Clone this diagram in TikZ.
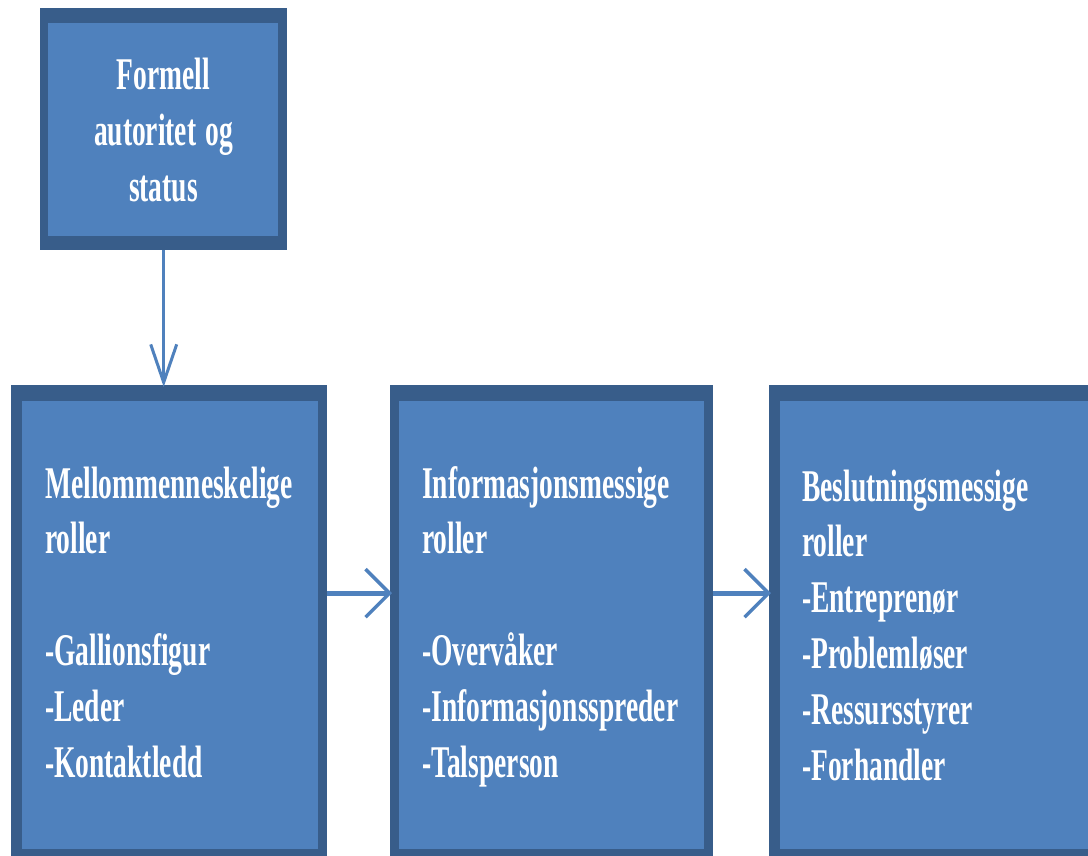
\documentclass[tikz,border=0pt]{standalone}
\usepackage{fontspec}
\setmainfont{Liberation Serif}
\usetikzlibrary{arrows.meta}
\definecolor{boxfill}{RGB}{79,129,189}
\definecolor{boxedge}{RGB}{56,93,138}
\definecolor{arrowc}{RGB}{79,129,189}
\begin{document}
\begin{tikzpicture}[x=1pt,y=-1pt,
  panel/.style={fill=boxedge, draw=none, inner sep=0pt, anchor=north west},
  inner/.style={fill=boxfill},
  txt/.style={text=white, inner sep=0pt, transform shape,
    font=\fontsize{27.5}{33.9}\selectfont\bfseries},
  vconn/.style={draw=arrowc, line width=3.5pt, shorten >=-2pt,
    -{Straight Barb[length=38pt, width=26pt, line width=3pt]}},
  hconn/.style={draw=arrowc, line width=5pt, shorten >=-2pt,
    -{Straight Barb[length=24pt, width=48pt, line width=3.5pt]}}]
\useasboundingbox (0,0) rectangle (1088,856);
\fill[white] (0,0) rectangle (1088,856);
% boxes
\node[panel, minimum width=247pt, minimum height=242pt] (top) at (40,8) {};
\fill[inner] ([xshift=8pt,yshift=-15pt]top.north west) rectangle ([xshift=-9pt,yshift=14pt]top.south east);
\node[panel, minimum width=316pt, minimum height=478pt] (b1) at (11,385) {};
\fill[inner] ([xshift=11pt,yshift=-16pt]b1.north west) rectangle ([xshift=-9pt,yshift=14pt]b1.south east);
\node[panel, minimum width=323pt, minimum height=478pt] (b2) at (390,385) {};
\fill[inner] ([xshift=9pt,yshift=-16pt]b2.north west) rectangle ([xshift=-9pt,yshift=14pt]b2.south east);
\node[panel, minimum width=340pt, minimum height=478pt] (b3) at (769,385) {};
\fill[inner] ([xshift=11pt,yshift=-16pt]b3.north west) rectangle ([xshift=-9pt,yshift=14pt]b3.south east);
% connectors
\draw[vconn] (top.south) -- (top.south |- b1.north);
\draw[hconn] ([yshift=31pt]b1.east) -- ([yshift=31pt]b1.east -| b2.west);
\draw[hconn] ([yshift=31pt]b2.east) -- ([yshift=31pt]b2.east -| b3.west);
% texts
\begin{scope}[shift={(163.5,90)}, yscale=1.65]
\node[txt, anchor=base, text width=240pt, align=center] (ttop) at (0,0) {Formell\\autoritet og\\status};
\end{scope}
\begin{scope}[shift={(45,498)}, yscale=1.65]
\node[txt, anchor=base west, text width=300pt, align=left] (t1) at (0,0) {Mellommenneskelige\\roller\\~\\-Gallionsfigur\\-Leder\\-Kontaktledd};
\end{scope}
\begin{scope}[shift={(422,498)}, yscale=1.65]
\node[txt, anchor=base west, text width=300pt, align=left] (t2) at (0,0) {Informasjonsmessige\\roller\\~\\-Overvåker\\-Informasjonsspreder\\-Talsperson};
\end{scope}
\begin{scope}[shift={(802,501)}, yscale=1.65]
\node[txt, anchor=base west, text width=300pt, align=left] (t3) at (0,0) {Beslutningsmessige\\roller\\-Entreprenør\\-Problemløser\\-Ressursstyrer\\-Forhandler};
\end{scope}
\end{tikzpicture}
\end{document}
